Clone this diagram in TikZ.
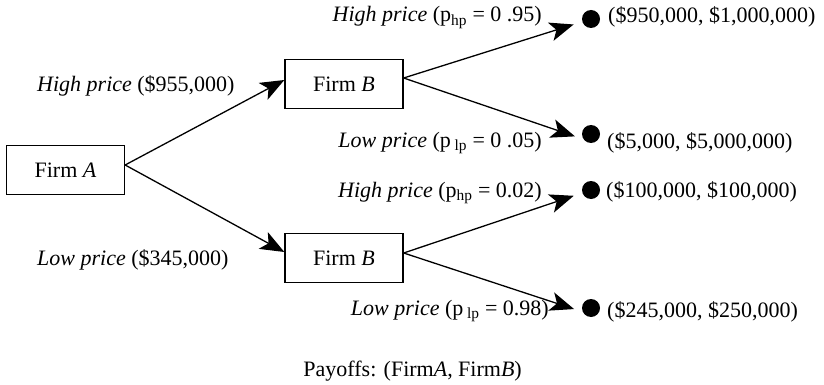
\documentclass[tikz,border=0pt]{standalone}
\usepackage{fontspec}
\setmainfont{Liberation Serif}
\usetikzlibrary{arrows.meta}
\begin{document}
\begin{tikzpicture}[x=1pt,y=-1pt,
  every node/.style={font=\fontsize{22}{26}\selectfont},
  firmbox/.style={draw,line width=1.3pt,minimum width=118pt,minimum height=49pt,inner sep=0pt},
  leaf/.style={circle,fill=black,minimum size=18pt,inner sep=0pt},
  txt/.style={inner sep=0pt},
  branch/.style={line width=1.3pt,-{Stealth[length=24pt,width=19pt,inset=6pt]}},
  toleaf/.style={branch,shorten >=9pt}]
\useasboundingbox (0,0) rectangle (824,385);

% decision nodes
\node[firmbox] (A)  at (65.5,170) {Firm \textit{A}};
\node[firmbox] (B1) at (344,84)  {Firm \textit{B}};
\node[firmbox] (B2) at (344,258) {Firm \textit{B}};

% terminal nodes
\node[leaf] (d1) at (591,19)  {};
\node[leaf] (d2) at (591,134) {};
\node[leaf] (d3) at (591,190) {};
\node[leaf] (d4) at (591,308) {};

% first-stage branches
\draw[branch] ([yshift=5pt]A.east) -- ([yshift=4pt]B1.west);
\draw[branch] ([yshift=5pt]A.east) -- ([yshift=6pt]B2.west);

% second-stage branches
\draw[toleaf] ([yshift=6pt]B1.east) -- (d1);
\draw[toleaf] ([yshift=6pt]B1.east) -- (d2.215);
\draw[toleaf] ([yshift=5pt]B2.east) -- (d3);
\draw[toleaf] ([yshift=5pt]B2.east) -- (d4.205);

% branch labels
\node[txt,anchor=base west] (lA1) at (37,92)  {\textit{High price} (\$955,000)};
\node[txt,anchor=base west] (lA2) at (37,265) {\textit{Low price} (\$345,000)};
\node[txt,anchor=base east] (l1) at (542,22)  {\textit{High price} (p\textsubscript{hp} = 0 .95)};
\node[txt,anchor=base east] (l2) at (542,147) {\textit{Low price} (p\,\textsubscript{lp} = 0 .05)};
\node[txt,anchor=base east] (l3) at (542,197) {\textit{High price} (p\textsubscript{hp} = 0.02)};
\node[txt,anchor=base east] (l4) at (549,315) {\textit{Low price} (p\,\textsubscript{lp} = 0.98)};

% payoffs
\node[txt,anchor=base west] (p1) at (608,23)  {(\$950,000, \$1,000,000)};
\node[txt,anchor=base west] (p2) at (607,149) {(\$5,000, \$5,000,000)};
\node[txt,anchor=base west] (p3) at (606,197) {(\$100,000, \$100,000)};
\node[txt,anchor=base west] (p4) at (607,317) {(\$245,000, \$250,000)};

\node[txt,anchor=base east] (cap) at (522,376) {Payoffs: (Firm\textit{A}, Firm\textit{B})};
\end{tikzpicture}
\end{document}
